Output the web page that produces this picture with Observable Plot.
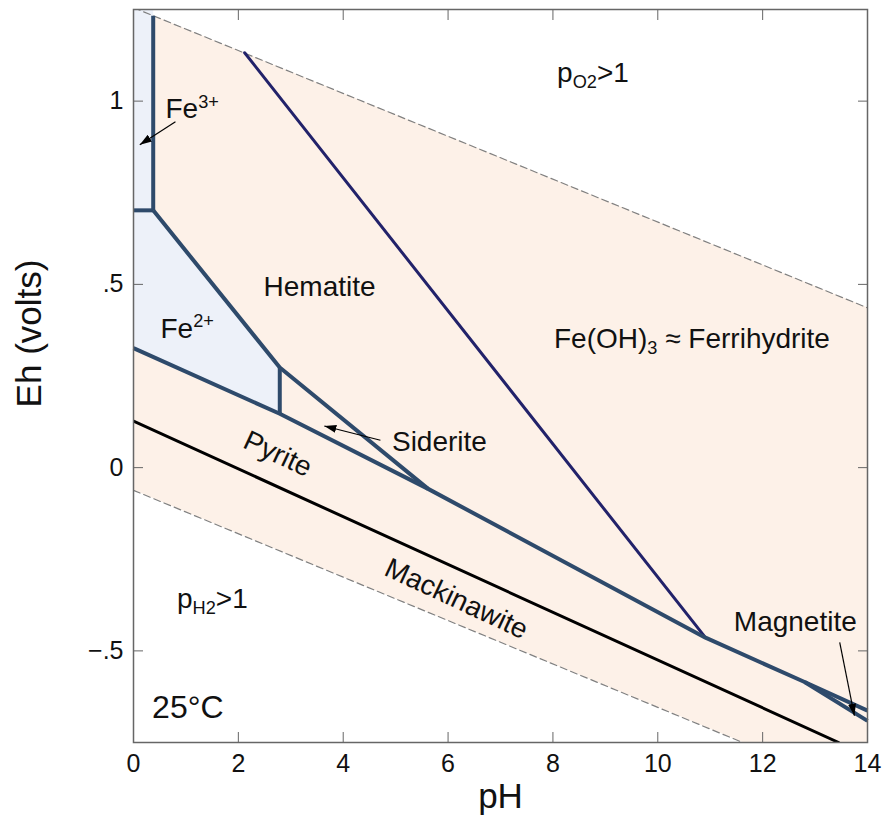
<!DOCTYPE html>
<html><head><meta charset="utf-8">
<script src="https://cdn.jsdelivr.net/npm/d3@7"></script>
<script src="https://cdn.jsdelivr.net/npm/@observablehq/plot@0.6"></script>
<style>body{margin:0;background:#fff}#chart{width:885px;height:818px}</style>
</head><body><div id="chart"></div>
<script>
// ---- data ----
const xTicks = [0, 2, 4, 6, 8, 10, 12, 14];
const yTicks = [-0.5, 0, 0.5, 1];

// water stability limits (dashed)
const waterUpper = [{pH: 0, Eh: 1.255}, {pH: 14, Eh: 0.436}];
const waterLower = [{pH: 0, Eh: -0.062}, {pH: 14, Eh: -0.891}];

// aqueous fields (blue)
const fe3Field = [{pH: 0, Eh: 0.702}, {pH: 0.376, Eh: 0.702}, {pH: 0.376, Eh: 1.25}, {pH: 0, Eh: 1.25}];
const fe2Field = [{pH: 0, Eh: 0.702}, {pH: 0.376, Eh: 0.702}, {pH: 2.79, Eh: 0.273}, {pH: 2.79, Eh: 0.147}, {pH: 0, Eh: 0.326}];

// boundaries (thick steel blue)
const bFe3Vertical = [{pH: 0.376, Eh: 0.702}, {pH: 0.376, Eh: 1.233}];
const bFe3Fe2 = [{pH: 0, Eh: 0.702}, {pH: 0.376, Eh: 0.702}];
const bHematiteLower = [{pH: 0.376, Eh: 0.702}, {pH: 2.79, Eh: 0.273}, {pH: 5.62, Eh: -0.058}];
const bFe2Siderite = [{pH: 2.79, Eh: 0.273}, {pH: 2.79, Eh: 0.147}];
const bPyriteUpper = [{pH: 0, Eh: 0.326}, {pH: 2.79, Eh: 0.147}, {pH: 5.62, Eh: -0.058}, {pH: 10.91, Eh: -0.464}, {pH: 12.8, Eh: -0.585}, {pH: 14, Eh: -0.663}];
const bMagnetiteLower = [{pH: 12.8, Eh: -0.585}, {pH: 14, Eh: -0.691}];
// hematite / ferrihydrite (navy)
const bHematiteFerri = [{pH: 2.12, Eh: 1.132}, {pH: 10.91, Eh: -0.464}];
// pyrite / mackinawite (black)
const bPyriteMack = [{pH: 0, Eh: 0.127}, {pH: 13.45, Eh: -0.75}];

// labels
const labels = [
  {pH: 0.61, Eh: 0.978, text: "Fe^{3+}"},
  {pH: 0.515, Eh: 0.378, text: "Fe^{2+}"},
  {pH: 2.48, Eh: 0.492, text: "Hematite"},
  {pH: 8.02, Eh: 0.351, text: "Fe(OH)_{3} ≈ Ferrihydrite"},
  {pH: 8.08, Eh: 1.078, text: "p_{O2}>1"},
  {pH: 0.83, Eh: -0.358, text: "p_{H2}>1"},
  {pH: 4.93, Eh: 0.069, text: "Siderite"},
  {pH: 11.45, Eh: -0.422, text: "Magnetite"}
];
const rotatedLabels = [
  {pH: 2.75, Eh: 0.037, text: "Pyrite", angle: 25},
  {pH: 6.16, Eh: -0.358, text: "Mackinawite", angle: 25}
];
const tempLabel = [{pH: 0.355, Eh: -0.654, text: "25°C"}];
const arrows = [
  {x1: 0.80, y1: 0.944, x2: 0.12, y2: 0.881},
  {x1: 4.71, y1: 0.0746, x2: 3.64, y2: 0.1136},
  {x1: 13.47, y1: -0.477, x2: 13.75, y2: -0.677}
];
const xLabel = [{pH: 7, text: "pH"}];
const yLabel = [{Eh: 0.366, text: "Eh (volts)"}];

// ---- styles ----
const peach = "#fdf1e8";
const paleBlue = "#edf1f9";
const steel = "#2e4a6b";
const navy = "#22226a";
const font = "Liberation Sans, Arial, Helvetica, sans-serif";

const waterBand = waterUpper.map((d, i) => ({pH: d.pH, hi: d.Eh, lo: waterLower[i].Eh}));
const fields = [...fe3Field.map(d => ({...d, z: "fe3"})), ...fe2Field.map(d => ({...d, z: "fe2"}))];

const yFmt = d => d === 0 ? "0" : (d < 0 ? "\u2212" : "") + String(Math.abs(d)).replace(/^0\./, ".");

const steelLine = (data) => Plot.line(data, {x: "pH", y: "Eh", stroke: steel, strokeWidth: 4, strokeLinejoin: "round", strokeLinecap: "butt"});

const chart = Plot.plot({
  width: 885, height: 818,
  marginLeft: 133, marginRight: 18, marginTop: 9, marginBottom: 76,
  x: {domain: [0, 14]},
  y: {domain: [-0.75, 1.25]},
  style: {fontFamily: font, background: "white", color: "#111"},
  marks: [
    Plot.areaY(waterBand, {x: "pH", y1: "lo", y2: "hi", fill: peach, clip: true}),
    Plot.line(fields, {x: "pH", y: "Eh", z: "z", fill: paleBlue, stroke: "none", clip: true}),
    Plot.line(waterUpper, {x: "pH", y: "Eh", stroke: "#808080", strokeWidth: 1.2, strokeDasharray: "7,4", clip: true}),
    Plot.line(waterLower, {x: "pH", y: "Eh", stroke: "#808080", strokeWidth: 1.2, strokeDasharray: "7,4", clip: true}),
    Plot.line(bHematiteFerri, {x: "pH", y: "Eh", stroke: navy, strokeWidth: 3}),
    Plot.line(bPyriteMack, {x: "pH", y: "Eh", stroke: "#000", strokeWidth: 3, clip: true}),
    steelLine(bFe3Vertical),
    steelLine(bFe3Fe2),
    steelLine(bHematiteLower),
    steelLine(bFe2Siderite),
    steelLine(bPyriteUpper),
    steelLine(bMagnetiteLower),
    Plot.link(arrows, {x1: "x1", y1: "y1", x2: "x2", y2: "y2", stroke: "#000", strokeWidth: 1.2}),
    Plot.text(labels, {x: "pH", y: "Eh", text: "text", textAnchor: "start", fontSize: 28, fill: "#111"}),
    Plot.text(rotatedLabels, {x: "pH", y: "Eh", text: "text", rotate: "angle", textAnchor: "middle", fontSize: 28, fill: "#111"}),
    Plot.text(tempLabel, {x: "pH", y: "Eh", text: "text", textAnchor: "start", fontSize: 32, fill: "#111"}),
    Plot.frame({stroke: "#666", strokeWidth: 1.5}),
    Plot.axisX({anchor: "bottom", ticks: xTicks, tickSize: -10, tickPadding: 22, fontSize: 25, label: null, stroke: "#666", fill: "#111"}),
    Plot.axisX({anchor: "top", ticks: xTicks, tickSize: -10, tickFormat: () => "", label: null, stroke: "#666"}),
    Plot.axisY({anchor: "left", ticks: yTicks, tickSize: -10, tickPadding: 20, tickFormat: yFmt, fontSize: 25, label: null, stroke: "#666", fill: "#111"}),
    Plot.axisY({anchor: "right", ticks: yTicks, tickSize: -10, tickFormat: () => "", label: null, stroke: "#666"}),
    Plot.text(xLabel, {x: "pH", frameAnchor: "bottom", text: "text", textAnchor: "middle", lineAnchor: "middle", dy: 54.5, fontSize: 35, fill: "#111"}),
    Plot.text(yLabel, {y: "Eh", frameAnchor: "left", text: "text", textAnchor: "middle", lineAnchor: "middle", rotate: -90, dx: -104, fontSize: 35, fill: "#111"})
  ]
});

const host = document.getElementById("chart");
host.appendChild(chart);
const svg = chart.tagName.toLowerCase() === "svg" ? chart : chart.querySelector("svg");
const NS = "http://www.w3.org/2000/svg";

// filled arrowheads on the pointer links
const defs = document.createElementNS(NS, "defs");
const marker = document.createElementNS(NS, "marker");
marker.setAttribute("id", "pointer-head");
marker.setAttribute("viewBox", "-12 -6 12 12");
marker.setAttribute("refX", "0");
marker.setAttribute("refY", "0");
marker.setAttribute("markerWidth", "12");
marker.setAttribute("markerHeight", "12");
marker.setAttribute("markerUnits", "userSpaceOnUse");
marker.setAttribute("orient", "auto");
const head = document.createElementNS(NS, "path");
head.setAttribute("d", "M-12,-4L0,0L-12,4Z");
head.setAttribute("fill", "#000");
head.setAttribute("stroke", "none");
marker.appendChild(head);
defs.appendChild(marker);
svg.insertBefore(defs, svg.firstChild);
svg.querySelectorAll('g[aria-label="link"] path, g[aria-label="link"] line').forEach(p => p.setAttribute("marker-end", "url(#pointer-head)"));

// convert ^{..} and _{..} markup into real superscript / subscript tspans
svg.querySelectorAll("text").forEach(t => {
  const s = t.textContent;
  if (!/[\^_]\{/.test(s)) return;
  const fs = parseFloat(getComputedStyle(t).fontSize) || 28;
  const re = /([\^_])\{([^}]*)\}/g;
  const parts = [];
  let last = 0, m;
  while ((m = re.exec(s))) {
    if (m.index > last) parts.push({t: s.slice(last, m.index)});
    parts.push({t: m[2], k: m[1]});
    last = re.lastIndex;
  }
  if (last < s.length) parts.push({t: s.slice(last)});
  while (t.firstChild) t.removeChild(t.firstChild);
  let cur = 0;
  for (const p of parts) {
    const ts = document.createElementNS(NS, "tspan");
    const target = p.k === "^" ? -0.38 * fs : p.k === "_" ? 0.22 * fs : 0;
    if (target - cur !== 0) ts.setAttribute("dy", target - cur);
    cur = target;
    if (p.k) ts.setAttribute("font-size", (0.65 * fs).toFixed(1));
    ts.textContent = p.t;
    t.appendChild(ts);
  }
});
</script>
</body></html>
